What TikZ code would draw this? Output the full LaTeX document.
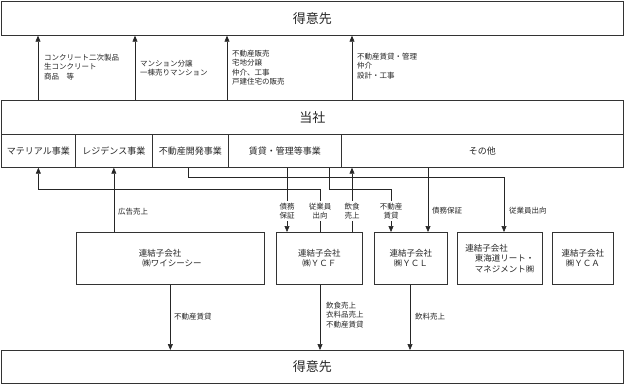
\documentclass[tikz,border=0pt]{standalone}
\usepackage{fontspec}
\setmainfont{Noto Sans CJK JP}
\usetikzlibrary{arrows.meta}
\begin{document}
\begin{tikzpicture}[x=1pt,y=-1pt,
  box/.style={draw=black!80, line width=0.7pt, inner sep=0pt, anchor=north west, align=left, text=black!85, font=\fontsize{8.5}{10.5}\selectfont},
  ttl/.style={box, align=center, font=\fontsize{13}{15}\selectfont},
  seg/.style={box, align=center, minimum height=33pt, font=\fontsize{9}{11}\selectfont},
  sub/.style={box, minimum height=52pt},
  ln/.style={line width=0.6pt, draw=black!85},
  arr/.style={ln, -{Triangle[length=6pt,width=5pt]}},
  lbl/.style={font=\fontsize{7.5}{9.5}\selectfont, align=left, inner sep=1pt, text=black!85, anchor=west},
  lblc/.style={lbl, anchor=center, align=center, fill=white, inner sep=1.5pt}
]
\useasboundingbox (0,0) rectangle (624,384);
% main boxes
\node[ttl, minimum width=622pt, minimum height=34pt] (top) at (1,1) {得意先};
\node[ttl, minimum width=622pt, minimum height=34pt] (hq) at (1,100) {当社};
\node[seg, minimum width=74pt] (s1) at (1,134) {マテリアル事業};
\node[seg, minimum width=77pt] (s2) at (75,134) {レジデンス事業};
\node[seg, minimum width=76pt] (s3) at (152,134) {不動産開発事業};
\node[seg, minimum width=113pt] (s4) at (228,134) {賃貸・管理等事業};
\node[seg, minimum width=282pt] (s5) at (341,134) {その他};
\node[sub, minimum width=188pt] (c1) at (76,232) {連結子会社\\\hspace{0.4em}㈱ワイシーシー};
\node[sub, minimum width=86pt] (c2) at (276,232) {連結子会社\\\hspace{0.5em}㈱ＹＣＦ};
\node[sub, minimum width=73pt] (c3) at (374,232) {連結子会社\\\hspace{0.5em}㈱ＹＣＬ};
\node[sub, minimum width=85pt] (c4) at (457,232) {連結子会社\\\hspace{1.1em}東海道リート・\\\hspace{1.1em}マネジメント㈱};
\node[sub, minimum width=61pt] (c5) at (552,232) {連結子会社\\\hspace{0.5em}㈱ＹＣＡ};
\node[ttl, minimum width=622pt, minimum height=33pt] (bot) at (1,350) {得意先};
% coordinates
\coordinate (xa) at (38,0);
\coordinate (xb) at (135,0);
\coordinate (xc) at (227,0);
\coordinate (xd) at (352,0);
\coordinate (x287) at (287,0);
\coordinate (x320) at (320,0);
\coordinate (x329) at (329,0);
\coordinate (x188) at (188,0);
\coordinate (x428) at (428,0);
\coordinate (p320) at (320,189);
\coordinate (q391) at (391,189);
\coordinate (r504) at (504,177);
% arrows to top customers
\draw[arr] (hq.north -| xa) -- (top.south -| xa);
\draw[arr] (hq.north -| xb) -- (top.south -| xb);
\draw[arr] (hq.north -| xc) -- (top.south -| xc);
\draw[arr] (hq.north -| xd) -- (top.south -| xd);
\node[lbl] (la) at (43,67) {コンクリート二次製品\\生コンクリート\\商品　等};
\node[lbl] (lb) at (139,68) {マンション分譲\\一棟売りマンション};
\node[lbl] (lc) at (231,67.5) {不動産販売\\宅地分譲\\仲介、工事\\戸建住宅の販売};
\node[lbl] (ld) at (356,66) {不動産賃貸・管理\\仲介\\設計・工事};
% connectors between segments and subsidiaries
\draw[arr] (c1.north -| s2.south) -- (s2.south);
\node[lbl] (le) at (117,212) {広告売上};
\draw[arr] (c2.north -| x320) -- (p320) -| (s1.south);
\draw[arr] (s4.south -| x287) -- (c2.north -| x287);
\draw[arr] (c2.north -| xd) -- (s5.south -| xd);
\draw[arr] (s4.south -| x329) |- (q391) -- (c3.north -| q391);
\draw[arr] (s3.south -| x188) |- (r504) -- (c4.north -| r504);
\draw[arr] (s5.south -| x428) -- (c3.north -| x428);
\node[lblc] (lf) at (287,211) {債務\\保証};
\node[lblc] (lg) at (320,211) {従業員\\出向};
\node[lblc] (lh) at (352,211) {飲食\\売上};
\node[lblc] (li) at (391,211) {不動産\\賃貸};
\node[lbl] (lj) at (431,211) {債務保証};
\node[lbl] (lk) at (508,211) {従業員出向};
% arrows to bottom customers
\draw[arr] (c1.south) -- (bot.north -| c1.south);
\draw[arr] (c2.south -| x320) -- (bot.north -| x320);
\draw[arr] (c3.south -| 410,0) -- (bot.north -| 410,0);
\node[lbl] (ll) at (173,317) {不動産賃貸};
\node[lbl] (lm) at (325,315) {飲食売上\\衣料品売上\\不動産賃貸};
\node[lbl] (ln) at (414,317) {飲料売上};
\end{tikzpicture}
\end{document}
